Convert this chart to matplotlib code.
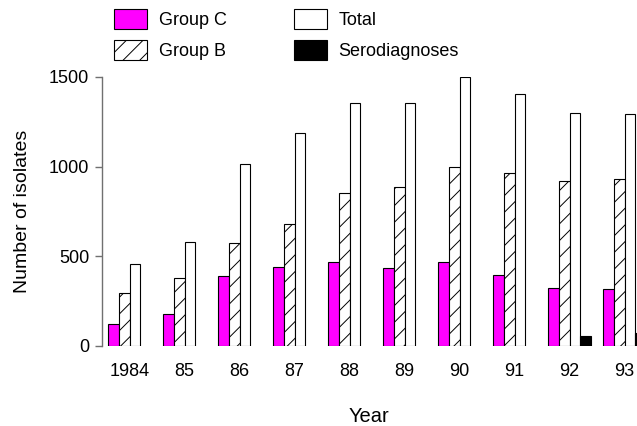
import matplotlib
matplotlib.use("Agg")
import matplotlib.pyplot as plt
import numpy as np

plt.rcParams['font.family'] = ['Liberation Sans', 'DejaVu Sans']
plt.rcParams['hatch.linewidth'] = 0.7

years = ["1984", "85", "86", "87", "88", "89", "90", "91", "92", "93"]
group_c = [123, 181, 388, 440, 466, 434, 466, 394, 326, 319]
group_b = [298, 377, 574, 678, 852, 885, 997, 967, 922, 932]
total = [458, 581, 1012, 1187, 1353, 1353, 1498, 1405, 1299, 1295]
sero = [0, 0, 0, 0, 0, 0, 0, 0, 54, 73]


def main():
    fig = plt.figure(figsize=(6.37, 4.26), dpi=100)
    ax = fig.add_axes([0.1597, 0.1878, 0.8403, 0.6315])

    x = np.arange(len(years))
    w = 0.1945
    edge = dict(edgecolor='black', linewidth=0.8)

    ax.bar(x - 1.5 * w, group_c, w, color='#ff00ff', label='Group C', **edge)
    ax.bar(x - 0.5 * w, group_b, w, color='white', hatch='//', label='Group B', **edge)
    ax.bar(x + 0.5 * w, total, w, color='white', label='Total', **edge)
    # serodiagnoses only reported for the last two years
    sero_arr = np.array(sero)
    keep = sero_arr > 0
    ax.bar(x[keep] + 1.5 * w, sero_arr[keep], w, color='black', label='Serodiagnoses', **edge)

    ax.set_xlim(-0.507, 9.225)
    ax.set_ylim(0, 1500)
    ax.set_yticks([0, 500, 1000, 1500])
    ax.set_xticks(x)
    ax.set_xticklabels(years)

    for s in ['top', 'right', 'bottom']:
        ax.spines[s].set_visible(False)
    ax.spines['left'].set_color('#707070')
    ax.spines['left'].set_linewidth(1.0)

    ax.tick_params(axis='y', length=5, width=1.0, color='#707070', pad=4, labelsize=13)
    ax.tick_params(axis='x', length=0, pad=12.5, labelsize=13)

    ax.set_ylabel('Number of isolates', fontsize=14, labelpad=13)
    ax.set_xlabel('Year', fontsize=14.5, labelpad=19)

    handles, labels = ax.get_legend_handles_labels()
    fig.legend(handles, labels, ncol=2, loc='upper left',
               bbox_to_anchor=(114 / 637, 1 - 9 / 426), frameon=False,
               fontsize=13, borderpad=0, borderaxespad=0,
               handlelength=1.83, handleheight=1.3, handletextpad=0.66,
               labelspacing=0.62, columnspacing=3.7)

    fig.savefig('out.png', dpi=100)


if __name__ == '__main__':
    main()
